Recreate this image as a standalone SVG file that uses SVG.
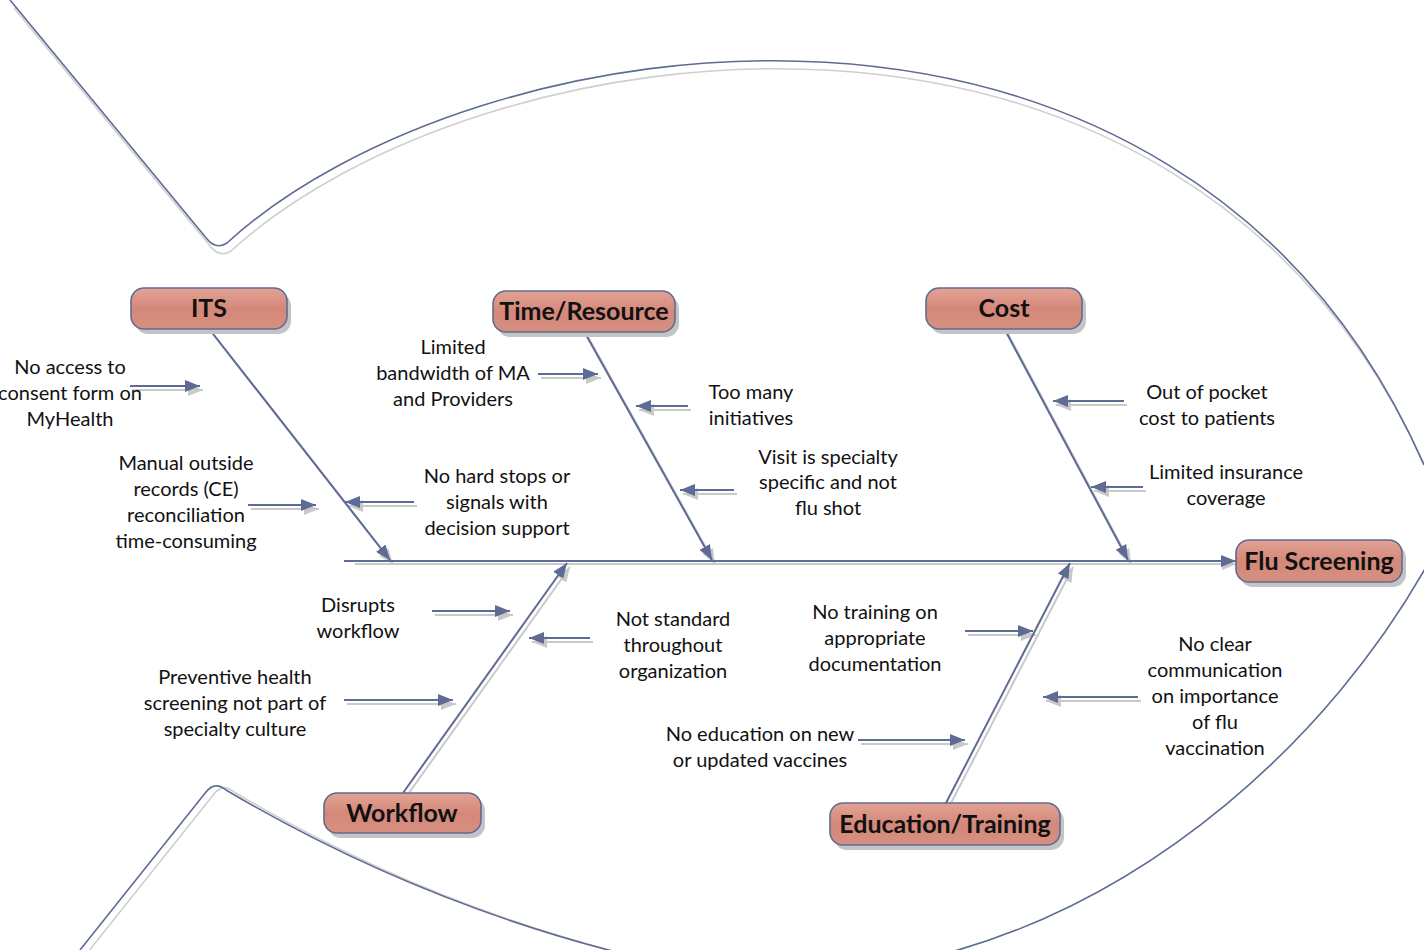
<svg xmlns="http://www.w3.org/2000/svg" width="1424" height="950" viewBox="0 0 1424 950">
<style>
.ln{fill:none;stroke:#5e6b94;stroke-width:2}
.sh{fill:none;stroke:#c9c9c9;stroke-width:2}
.ol{fill:none;stroke:#5e6b94;stroke-width:1.6}
.ols{fill:none;stroke:#cfcfcf;stroke-width:1.6}
.box{fill:url(#g);stroke:#5e6b94;stroke-width:1.6}
.bsh{fill:#c4c4c4}
.bt{font-family:Lato,"Open Sans",sans-serif;font-weight:bold;font-size:25px;fill:#111;text-anchor:middle}
.t{font-family:Lato,"Open Sans",sans-serif;font-size:20px;fill:#111;text-anchor:middle}
</style>
<defs>
<linearGradient id="g" x1="0" y1="0" x2="0" y2="1">
<stop offset="0" stop-color="#e3a394"/>
<stop offset="0.5" stop-color="#d4887a"/>
<stop offset="1" stop-color="#d6907f"/>
</linearGradient>
<marker id="ah" viewBox="0 0 15 12" refX="15" refY="6" markerWidth="15" markerHeight="12" markerUnits="userSpaceOnUse" orient="auto"><path d="M0,0 L15,6 L0,12 z" fill="#5e6b94"/></marker>
<marker id="ahs" viewBox="0 0 15 12" refX="15" refY="6" markerWidth="15" markerHeight="12" markerUnits="userSpaceOnUse" orient="auto"><path d="M0,0 L15,6 L0,12 z" fill="#c9c9c9"/></marker>
</defs>
<rect width="1424" height="950" fill="#fff"/>

<g id="fish">
<g transform="translate(4,8)">
<path class="ols" d="M10 0 L207 239 Q216 250 227 243 C470 20 1180 -90 1424 465"/>
</g>
<g transform="translate(8,2)">
<path class="ols" d="M80 950 L206 792 Q215 781 226 790 Q420 905 640 958"/>
</g>
<path class="ol" d="M10 0 L207 239 Q216 250 227 243 C470 20 1180 -90 1424 465"/>
<path class="ol" d="M80 950 L206 792 Q215 781 226 790 Q420 905 640 958"/>
<path class="ol" d="M940 955 C1150 900 1330 740 1430 560"/>
</g>

<g id="connectors">
<g transform="translate(3,4)">
<line class="sh" x1="352" y1="560" x2="1234" y2="560" marker-end="url(#ahs)"/>
<line class="sh" x1="210" y1="330" x2="390" y2="560" marker-end="url(#ahs)"/>
<line class="sh" x1="585" y1="333" x2="712" y2="560" marker-end="url(#ahs)"/>
<line class="sh" x1="1005" y1="330" x2="1128" y2="560" marker-end="url(#ahs)"/>
<line class="sh" x1="403" y1="793" x2="567" y2="563" marker-end="url(#ahs)"/>
<line class="sh" x1="946" y1="803" x2="1070" y2="563" marker-end="url(#ahs)"/>
<line class="sh" x1="130" y1="386" x2="200" y2="386" marker-end="url(#ahs)"/>
<line class="sh" x1="248" y1="505" x2="316" y2="505" marker-end="url(#ahs)"/>
<line class="sh" x1="414" y1="502" x2="345" y2="502" marker-end="url(#ahs)"/>
<line class="sh" x1="538" y1="374" x2="598" y2="374" marker-end="url(#ahs)"/>
<line class="sh" x1="688" y1="406" x2="636" y2="406" marker-end="url(#ahs)"/>
<line class="sh" x1="734" y1="490" x2="680" y2="490" marker-end="url(#ahs)"/>
<line class="sh" x1="1124" y1="401" x2="1053" y2="401" marker-end="url(#ahs)"/>
<line class="sh" x1="1143" y1="487" x2="1091" y2="487" marker-end="url(#ahs)"/>
<line class="sh" x1="432" y1="611" x2="510" y2="611" marker-end="url(#ahs)"/>
<line class="sh" x1="344" y1="700" x2="453" y2="700" marker-end="url(#ahs)"/>
<line class="sh" x1="590" y1="638" x2="529" y2="638" marker-end="url(#ahs)"/>
<line class="sh" x1="965" y1="631" x2="1033" y2="631" marker-end="url(#ahs)"/>
<line class="sh" x1="1138" y1="697" x2="1043" y2="697" marker-end="url(#ahs)"/>
<line class="sh" x1="858" y1="740" x2="965" y2="740" marker-end="url(#ahs)"/>
</g>
<line class="ln" x1="344" y1="561" x2="1236" y2="561" marker-end="url(#ah)"/>
<line class="ln" x1="210" y1="330" x2="390" y2="560" marker-end="url(#ah)"/>
<line class="ln" x1="585" y1="333" x2="712" y2="560" marker-end="url(#ah)"/>
<line class="ln" x1="1005" y1="330" x2="1128" y2="560" marker-end="url(#ah)"/>
<line class="ln" x1="403" y1="793" x2="567" y2="563" marker-end="url(#ah)"/>
<line class="ln" x1="946" y1="803" x2="1070" y2="563" marker-end="url(#ah)"/>
<line class="ln" x1="130" y1="386" x2="200" y2="386" marker-end="url(#ah)"/>
<line class="ln" x1="248" y1="505" x2="316" y2="505" marker-end="url(#ah)"/>
<line class="ln" x1="414" y1="502" x2="345" y2="502" marker-end="url(#ah)"/>
<line class="ln" x1="538" y1="374" x2="598" y2="374" marker-end="url(#ah)"/>
<line class="ln" x1="688" y1="406" x2="636" y2="406" marker-end="url(#ah)"/>
<line class="ln" x1="734" y1="490" x2="680" y2="490" marker-end="url(#ah)"/>
<line class="ln" x1="1124" y1="401" x2="1053" y2="401" marker-end="url(#ah)"/>
<line class="ln" x1="1143" y1="487" x2="1091" y2="487" marker-end="url(#ah)"/>
<line class="ln" x1="432" y1="611" x2="510" y2="611" marker-end="url(#ah)"/>
<line class="ln" x1="344" y1="700" x2="453" y2="700" marker-end="url(#ah)"/>
<line class="ln" x1="590" y1="638" x2="529" y2="638" marker-end="url(#ah)"/>
<line class="ln" x1="965" y1="631" x2="1033" y2="631" marker-end="url(#ah)"/>
<line class="ln" x1="1138" y1="697" x2="1043" y2="697" marker-end="url(#ah)"/>
<line class="ln" x1="858" y1="740" x2="965" y2="740" marker-end="url(#ah)"/>
</g>

<g id="its"><rect class="bsh" x="135" y="293" width="156" height="41" rx="13"/><rect class="box" x="131" y="288" width="156" height="41" rx="13"/><text class="bt" x="209" y="317">ITS</text></g>
<g id="time"><rect class="bsh" x="497" y="296" width="182" height="41" rx="13"/><rect class="box" x="493" y="291" width="182" height="41" rx="13"/><text class="bt" x="584" y="320">Time/Resource</text></g>
<g id="cost"><rect class="bsh" x="930" y="293" width="156" height="41" rx="13"/><rect class="box" x="926" y="288" width="156" height="41" rx="13"/><text class="bt" x="1004" y="317">Cost</text></g>
<g id="flu"><rect class="bsh" x="1240" y="545" width="166" height="42" rx="13"/><rect class="box" x="1236" y="540" width="166" height="42" rx="13"/><text class="bt" x="1319" y="570">Flu Screening</text></g>
<g id="workflow"><rect class="bsh" x="328" y="798" width="157" height="40" rx="13"/><rect class="box" x="324" y="793" width="157" height="40" rx="13"/><text class="bt" x="402" y="822">Workflow</text></g>
<g id="edu"><rect class="bsh" x="834" y="808" width="230" height="42" rx="13"/><rect class="box" x="830" y="803" width="230" height="42" rx="13"/><text class="bt" x="945" y="833">Education/Training</text></g>

<g id="c1"><text class="t"><tspan x="70" y="374">No access to</tspan><tspan x="70" y="400">consent form on</tspan><tspan x="70" y="426">MyHealth</tspan></text></g>
<g id="c2"><text class="t"><tspan x="186" y="470">Manual outside</tspan><tspan x="186" y="496">records (CE)</tspan><tspan x="186" y="522">reconciliation</tspan><tspan x="186" y="548">time-consuming</tspan></text></g>
<g id="c3"><text class="t"><tspan x="497" y="483">No hard stops or</tspan><tspan x="497" y="509">signals with</tspan><tspan x="497" y="535">decision support</tspan></text></g>
<g id="c4"><text class="t"><tspan x="453" y="354">Limited</tspan><tspan x="453" y="380">bandwidth of MA</tspan><tspan x="453" y="406">and Providers</tspan></text></g>
<g id="c5"><text class="t"><tspan x="751" y="399">Too many</tspan><tspan x="751" y="425">initiatives</tspan></text></g>
<g id="c6"><text class="t"><tspan x="828" y="464">Visit is specialty</tspan><tspan x="828" y="489">specific and not</tspan><tspan x="828" y="515">flu shot</tspan></text></g>
<g id="c7"><text class="t"><tspan x="1207" y="399">Out of pocket</tspan><tspan x="1207" y="425">cost to patients</tspan></text></g>
<g id="c8"><text class="t"><tspan x="1226" y="479">Limited insurance</tspan><tspan x="1226" y="505">coverage</tspan></text></g>
<g id="c9"><text class="t"><tspan x="358" y="612">Disrupts</tspan><tspan x="358" y="638">workflow</tspan></text></g>
<g id="c10"><text class="t"><tspan x="235" y="684">Preventive health</tspan><tspan x="235" y="710">screening not part of</tspan><tspan x="235" y="736">specialty culture</tspan></text></g>
<g id="c11"><text class="t"><tspan x="673" y="626">Not standard</tspan><tspan x="673" y="652">throughout</tspan><tspan x="673" y="678">organization</tspan></text></g>
<g id="c12"><text class="t"><tspan x="875" y="619">No training on</tspan><tspan x="875" y="645">appropriate</tspan><tspan x="875" y="671">documentation</tspan></text></g>
<g id="c13"><text class="t"><tspan x="1215" y="651">No clear</tspan><tspan x="1215" y="677">communication</tspan><tspan x="1215" y="703">on importance</tspan><tspan x="1215" y="729">of flu</tspan><tspan x="1215" y="755">vaccination</tspan></text></g>
<g id="c14"><text class="t"><tspan x="760" y="741">No education on new</tspan><tspan x="760" y="767">or updated vaccines</tspan></text></g>
</svg>
